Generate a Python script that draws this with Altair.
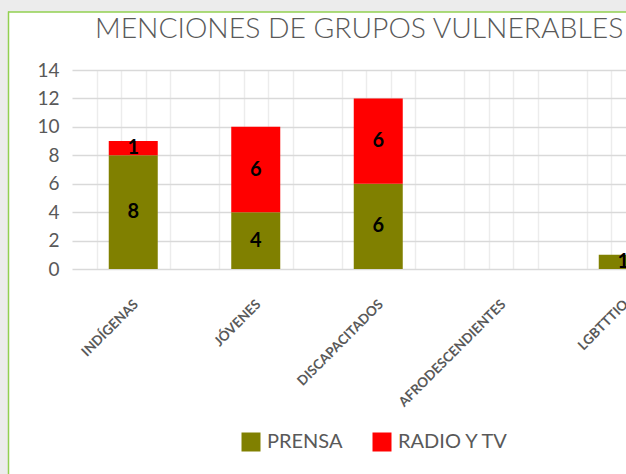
import altair as alt
import pandas as pd

# ---- data ----
categories = ["INDÍGENAS", "JÓVENES", "DISCAPACITADOS", "AFRODESCENDIENTES", "LGBTTTIQ"]
prensa = [8, 4, 6, 0, 1]
radio_tv = [1, 6, 6, 0, 0]
series = ["PRENSA", "RADIO Y TV"]
colors = ["#808000", "#FF0000"]
y_ticks = [0, 2, 4, 6, 8, 10, 12, 14]
title_text = "MENCIONES DE GRUPOS VULNERABLES"

rows = []
for i, c in enumerate(categories):
    rows.append({"cat": c, "serie": series[0], "value": prensa[i], "ord": 0})
    rows.append({"cat": c, "serie": series[1], "value": radio_tv[i], "ord": 1})
df = pd.DataFrame(rows)

FONT = "Lato"
GREY = "#595959"

W, H = 554, 199
XRANGE = [0, 612.5]  # band range extends past the visible edge (chart is cropped)

xscale = alt.Scale(domain=categories, range=XRANGE, paddingInner=0.6, paddingOuter=0.3)
yscale = alt.Scale(domain=[0, 14])

x_axis = alt.Axis(title=None, labelAngle=-45, labelFont=FONT, labelFontSize=13.5,
                  labelFontWeight="bold", labelColor=GREY, ticks=False,
                  domain=False, grid=False, labelPadding=28, labelOffset=-2,
                  labelOverlap=False)
y_axis = alt.Axis(title=None, values=y_ticks, labelFont=FONT, labelFontSize=19,
                  labelColor=GREY, ticks=False, domain=False, grid=True,
                  gridColor="#d9d9d9", gridWidth=1.5, labelPadding=13,
                  labelOverlap=False)

bars = alt.Chart(df).mark_bar(clip=True).encode(
    x=alt.X("cat:N", scale=xscale, sort=categories, axis=x_axis),
    y=alt.Y("sum(value):Q", scale=yscale, stack="zero", axis=y_axis),
    color=alt.Color("serie:N", scale=alt.Scale(domain=series, range=colors),
                    legend=alt.Legend(title=None, orient="none", legendX=169, legendY=362,
                                      direction="horizontal", symbolType="square",
                                      symbolSize=361, symbolStrokeWidth=0,
                                      labelFont=FONT, labelFontSize=20, labelColor=GREY,
                                      labelOffset=6, columnPadding=29)),
    order=alt.Order("ord:Q"),
)

labels = alt.Chart(df).transform_stack(
    stack="value", groupby=["cat"], as_=["v0", "v1"], sort=[alt.SortField("ord")]
).transform_filter("datum.value > 0").transform_calculate(
    mid="(datum.v0 + datum.v1) / 2"
).mark_text(clip=True, font=FONT, fontSize=20, fontWeight="bold", color="black",
            baseline="middle", align="center").encode(
    x=alt.X("cat:N", scale=xscale, sort=categories, axis=x_axis),
    y=alt.Y("mid:Q", scale=yscale, axis=y_axis),
    text=alt.Text("value:Q"),
)

inner = alt.layer(bars, labels)

# minor vertical gridlines (5 per category, none on category boundaries)
grid_vals = [k for k in range(1, 25) if k % 5 != 0]
vgrid = alt.Chart(pd.DataFrame({"g": [0]})).mark_point(opacity=0).encode(
    x=alt.X("g:Q", scale=alt.Scale(domain=[0, 25], range=XRANGE, nice=False, zero=False),
            axis=alt.Axis(orient="top", values=grid_vals, labels=False, ticks=False,
                          domain=False, title=None, grid=True, gridColor="#ececec",
                          gridWidth=1.5)),
)

one = pd.DataFrame({"a": [0]})
grey_left = alt.Chart(one).mark_rect(color="#ececec").encode(
    x=alt.value(-72), x2=alt.value(-64), y=alt.value(-70), y2=alt.value(404))
grey_top = alt.Chart(one).mark_rect(color="#ececec").encode(
    x=alt.value(-72), x2=alt.value(554), y=alt.value(-70), y2=alt.value(-58))
green_v = alt.Chart(one).mark_rule(color="#92d050", strokeWidth=1.5).encode(
    x=alt.value(-63.5), y=alt.value(-58.5), y2=alt.value(404))
green_h = alt.Chart(one).mark_rule(color="#92d050", strokeWidth=1.5).encode(
    x=alt.value(-64), x2=alt.value(554), y=alt.value(-58))

title_mark = alt.Chart(pd.DataFrame({"t": [title_text]})).mark_text(
    font=FONT, fontSize=28.3, fontWeight=300, color=GREY, align="left",
    baseline="alphabetic").encode(
    x=alt.value(23), y=alt.value(-32.5), text="t:N")

chart = alt.layer(vgrid, inner, grey_left, grey_top, green_v, green_h, title_mark).resolve_scale(
    x="independent"
).properties(
    width=W, height=H,
    autosize=alt.AutoSizeParams(type="none"),
    padding={"left": 72, "top": 70, "right": 0, "bottom": 205},
    background="white",
).configure_view(stroke=None)

chart.save("out.html", embed_options={"renderer": "svg", "actions": False})
